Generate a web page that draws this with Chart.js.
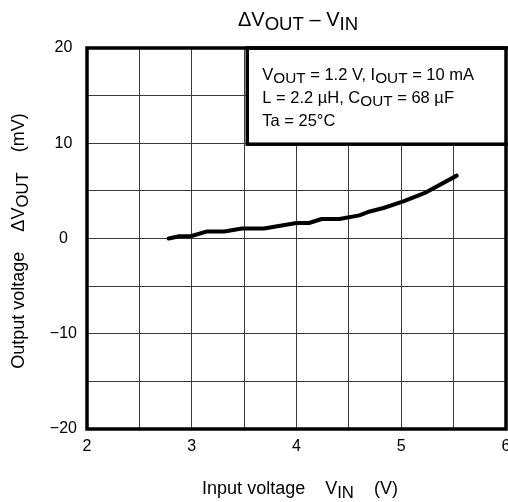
<!DOCTYPE html>
<html>
<head>
<meta charset="utf-8">
<script src="https://cdn.jsdelivr.net/npm/chart.js@4/dist/chart.umd.min.js"></script>
<style>
  html, body { margin: 0; padding: 0; background: #fff; }
  #wrap { width: 508px; height: 502px; }
</style>
</head>
<body>
<div id="wrap"><canvas id="grafico"></canvas></div>
<script>
// Dados
const vin = [2.78, 2.88, 2.99, 3.14, 3.31, 3.48, 3.69, 4.0, 4.12, 4.24, 4.41, 4.6, 4.7, 4.83, 5.02, 5.22, 5.53];
const dVout = [0, 0.24, 0.24, 0.73, 0.73, 1.04, 1.04, 1.63, 1.63, 2.05, 2.05, 2.43, 2.84, 3.2, 3.89, 4.76, 6.6];

const xTicks = [2, 3, 4, 5, 6];
const yTicks = [-20, -10, 0, 10, 20];

const fonte = '"Liberation Sans", Arial, sans-serif';

// desenha texto com subscritos: partes = [[texto, sub?], ...]
function larguraRica(ctx, partes, tam) {
    let w = 0;
    partes.forEach(p => {
        ctx.font = (p[1] ? tam * 0.93 : tam) + 'px ' + fonte;
        w += ctx.measureText(p[0]).width;
    });
    return w;
}
function textoRico(ctx, partes, x, y, tam, centro) {
    let w = larguraRica(ctx, partes, tam);
    let cx = centro ? x - w / 2 : x;
    ctx.textBaseline = 'alphabetic';
    ctx.textAlign = 'left';
    partes.forEach(p => {
        ctx.font = (p[1] ? tam * 0.93 : tam) + 'px ' + fonte;
        ctx.fillText(p[0], cx, y + (p[1] ? tam * 0.2 : 0));
        cx += ctx.measureText(p[0]).width;
    });
}

const extras = {
    id: 'extras',
    afterDraw(chart) {
        const ctx = chart.ctx;
        const a = chart.chartArea;
        const sx = chart.scales.x, sy = chart.scales.y;
        ctx.save();

        // caixa de condições
        const bx = sx.getPixelForValue(3.53), by = sy.getPixelForValue(9.9);
        ctx.fillStyle = '#fff';
        ctx.fillRect(bx, a.top, a.right - bx, by - a.top);
        ctx.strokeStyle = '#000';
        ctx.lineWidth = 3.5;
        ctx.strokeRect(bx, a.top, a.right - bx + 4, by - a.top);
        ctx.fillStyle = '#000';
        textoRico(ctx, [['V'], ['OUT', 1], [' = 1.2 V, I'], ['OUT', 1], [' = 10 mA']], bx + 15, 80, 16.5);
        textoRico(ctx, [['L = 2.2 \u00b5H, C'], ['OUT', 1], [' = 68 \u00b5F']], bx + 15, 103, 16.5);
        textoRico(ctx, [['Ta = 25\u00b0C']], bx + 15, 126, 16.5);

        // borda do gráfico
        ctx.lineWidth = 3.5;
        ctx.strokeRect(a.left, a.top, a.right - a.left, a.bottom - a.top);

        // título
        textoRico(ctx, [['\u0394V'], ['OUT', 1], [' \u2013 V'], ['IN', 1]], 298, 26, 20, true);

        // título eixo x
        textoRico(ctx, [['Input voltage    V'], ['IN', 1], ['    (V)']], 300, 494, 18, true);

        // título eixo y
        ctx.translate(24, 241);
        ctx.rotate(-Math.PI / 2);
        textoRico(ctx, [['Output voltage    \u0394V'], ['OUT', 1], ['    (mV)']], 0, 0, 18, true);
        ctx.restore();
    }
};

new Chart(document.getElementById('grafico'), {
    type: 'line',
    data: {
        datasets: [{
            data: vin.map((v, i) => ({ x: v, y: dVout[i] })),
            borderColor: '#000',
            borderWidth: 4,
            pointRadius: 0,
            tension: 0,
            borderCapStyle: 'round',
            borderJoinStyle: 'round'
        }]
    },
    options: {
        responsive: true,
        maintainAspectRatio: false,
        animation: false,
        layout: { padding: { top: 48, right: 2, left: 0, bottom: 0 } },
        plugins: { legend: { display: false }, tooltip: { enabled: false } },
        scales: {
            x: {
                type: 'linear',
                min: 2, max: 6,
                afterFit: s => { s.height = 73; s.paddingRight = 0; s.paddingLeft = 0; },
                afterBuildTicks: s => {
                    s.ticks = [];
                    for (let v = 2; v <= 6.001; v += 0.5) s.ticks.push({ value: v });
                },
                grid: { color: '#3a3a3a', lineWidth: 1, drawTicks: false },
                border: { display: false },
                ticks: {
                    padding: 8,
                    color: '#000',
                    font: { family: fonte, size: 16 },
                    maxRotation: 0,
                    autoSkip: false,
                    callback: v => xTicks.includes(v) ? String(v) : ''
                }
            },
            y: {
                min: -20, max: 20,
                afterFit: s => { s.width = 87; s.paddingTop = 0; s.paddingBottom = 0; },
                afterBuildTicks: s => {
                    s.ticks = [];
                    for (let v = -20; v <= 20; v += 5) s.ticks.push({ value: v });
                },
                grid: { color: '#3a3a3a', lineWidth: 1, drawTicks: false },
                border: { display: false },
                ticks: {
                    padding: 10,
                    crossAlign: 'center',
                    color: '#000',
                    font: { family: fonte, size: 16 },
                    autoSkip: false,
                    callback: v => yTicks.includes(v) ? String(v).replace('-', '\u2212') : ''
                }
            }
        }
    },
    plugins: [extras]
});
</script>
</body>
</html>
